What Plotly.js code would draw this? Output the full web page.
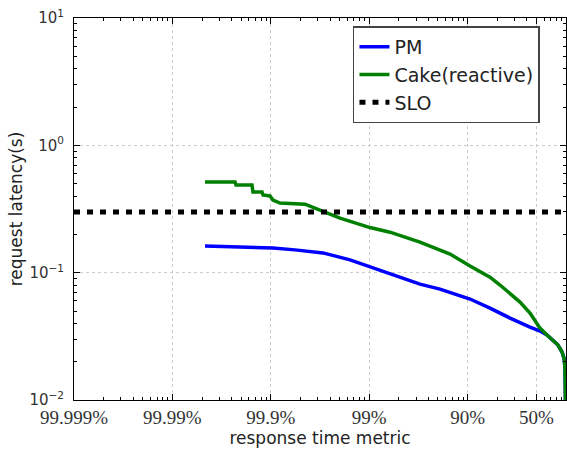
<!DOCTYPE html>
<html>
<head>
<meta charset="utf-8">
<script src="https://cdn.plot.ly/plotly-3.0.1.min.js"></script>
<style>html,body{margin:0;padding:0;background:#fff;}#chart{width:567px;height:449px;}</style>
</head>
<body>
<div id="chart"></div>
<script>
// tail fraction (1 - percentile) for each sample point
var pmX = [2.145e-4, 4.86e-4, 1.053e-3, 1.762e-3, 3.39e-3, 6.38e-3, 0.01019, 0.02056, 0.0328, 0.0524, 0.1058, 0.1689, 0.2698, 0.4306, 0.5441, 0.641, 0.738, 0.829, 0.911, 0.954, 0.977, 0.99];
var pmY = [0.162, 0.159, 0.156, 0.151, 0.143, 0.126, 0.111, 0.0923, 0.0813, 0.0743, 0.0621, 0.0527, 0.0440, 0.0374, 0.0348, 0.0324, 0.0295, 0.0270, 0.0238, 0.0213, 0.0181, 0.008];

var cakeX = [2.145e-4, 4.33e-4, 4.43e-4, 6.44e-4, 6.59e-4, 8.14e-4, 8.33e-4, 9.81e-4, 1.053e-3, 1.24e-3, 2.226e-3, 3.16e-3, 5.05e-3, 0.01019, 0.01627, 0.0328, 0.0663, 0.1058, 0.1689, 0.2135, 0.2698, 0.3408, 0.4306, 0.5441, 0.641, 0.738, 0.829, 0.911, 0.954, 0.977, 0.99];
var cakeY = [0.515, 0.515, 0.488, 0.488, 0.430, 0.430, 0.407, 0.400, 0.372, 0.352, 0.345, 0.310, 0.268, 0.226, 0.208, 0.174, 0.140, 0.113, 0.0923, 0.080, 0.0692, 0.0587, 0.0482, 0.0367, 0.0324, 0.0295, 0.0270, 0.0238, 0.0213, 0.0181, 0.008];

var sloX = [1e-5, 1];
var sloY = [0.3, 0.3];

var xTickVals = [1e-5, 1e-4, 1e-3, 1e-2, 1e-1, 0.5];
var xTickText = ['99.999%', '99.99%', '99.9%', '99%', '90%', '50%'];
var yTickVals = [0.01, 0.1, 1, 10];
var yTickText = ['10<sup>\u22122</sup>', '10<sup>\u22121</sup>', '10<sup>0</sup>', '10<sup>1</sup>'];

function minorVals(k0, k1) {
  var v = [];
  for (var k = k0; k < k1; k++) for (var m = 2; m <= 9; m++) v.push(m * Math.pow(10, k));
  return v;
}

var traces = [
  {x: pmX, y: pmY, name: 'PM', mode: 'lines', line: {color: '#0000ff', width: 3.5}},
  {x: cakeX, y: cakeY, name: 'Cake(reactive)', mode: 'lines', line: {color: '#008000', width: 3.5}},
  {x: sloX, y: sloY, name: 'SLO', mode: 'lines', line: {color: '#000000', width: 5, dash: '6px,7px'}}
];

var axisCommon = {
  showline: true, linecolor: '#000', linewidth: 1, mirror: 'allticks',
  ticks: 'inside', ticklen: 6, tickwidth: 1, tickcolor: '#000',
  showgrid: true, gridcolor: '#cccccc', gridwidth: 1, griddash: 'dot',
  zeroline: false
};

var layout = {
  width: 567, height: 449,
  margin: {l: 74, r: 1, t: 18, b: 49},
  paper_bgcolor: '#fff', plot_bgcolor: '#fff',
  showlegend: true,
  legend: {
    x: 0.567, y: 0.978, xanchor: 'left', yanchor: 'top',
    bgcolor: '#fff', bordercolor: '#444', borderwidth: 1.5,
    font: {family: 'DejaVu Sans', size: 19, color: '#222'},
    itemwidth: 30
  },
  xaxis: Object.assign({}, axisCommon, {
    type: 'log', range: [-5, 0],
    tickmode: 'array', tickvals: xTickVals, ticktext: xTickText,
    tickfont: {family: 'Liberation Serif', size: 19, color: '#333'},
    minor: {ticks: 'inside', ticklen: 3, tickcolor: '#000', tickmode: 'array', tickvals: minorVals(-5, 0), showgrid: false},
    title: {text: 'response time metric', font: {family: 'DejaVu Sans', size: 17, color: '#222'}, standoff: 4}
  }),
  yaxis: Object.assign({}, axisCommon, {
    type: 'log', range: [-2, 1],
    tickmode: 'array', tickvals: yTickVals, ticktext: yTickText,
    ticklabelstandoff: 6,
    tickfont: {family: 'DejaVu Sans', size: 15, color: '#333'},
    minor: {ticks: 'inside', ticklen: 3, tickcolor: '#000', tickmode: 'array', tickvals: minorVals(-2, 1), showgrid: false},
    title: {text: 'request latency(s)', font: {family: 'DejaVu Sans', size: 17, color: '#222'}, standoff: 2}
  })
};

Plotly.newPlot('chart', traces, layout, {displayModeBar: false, staticPlot: true});
</script>
</body>
</html>
